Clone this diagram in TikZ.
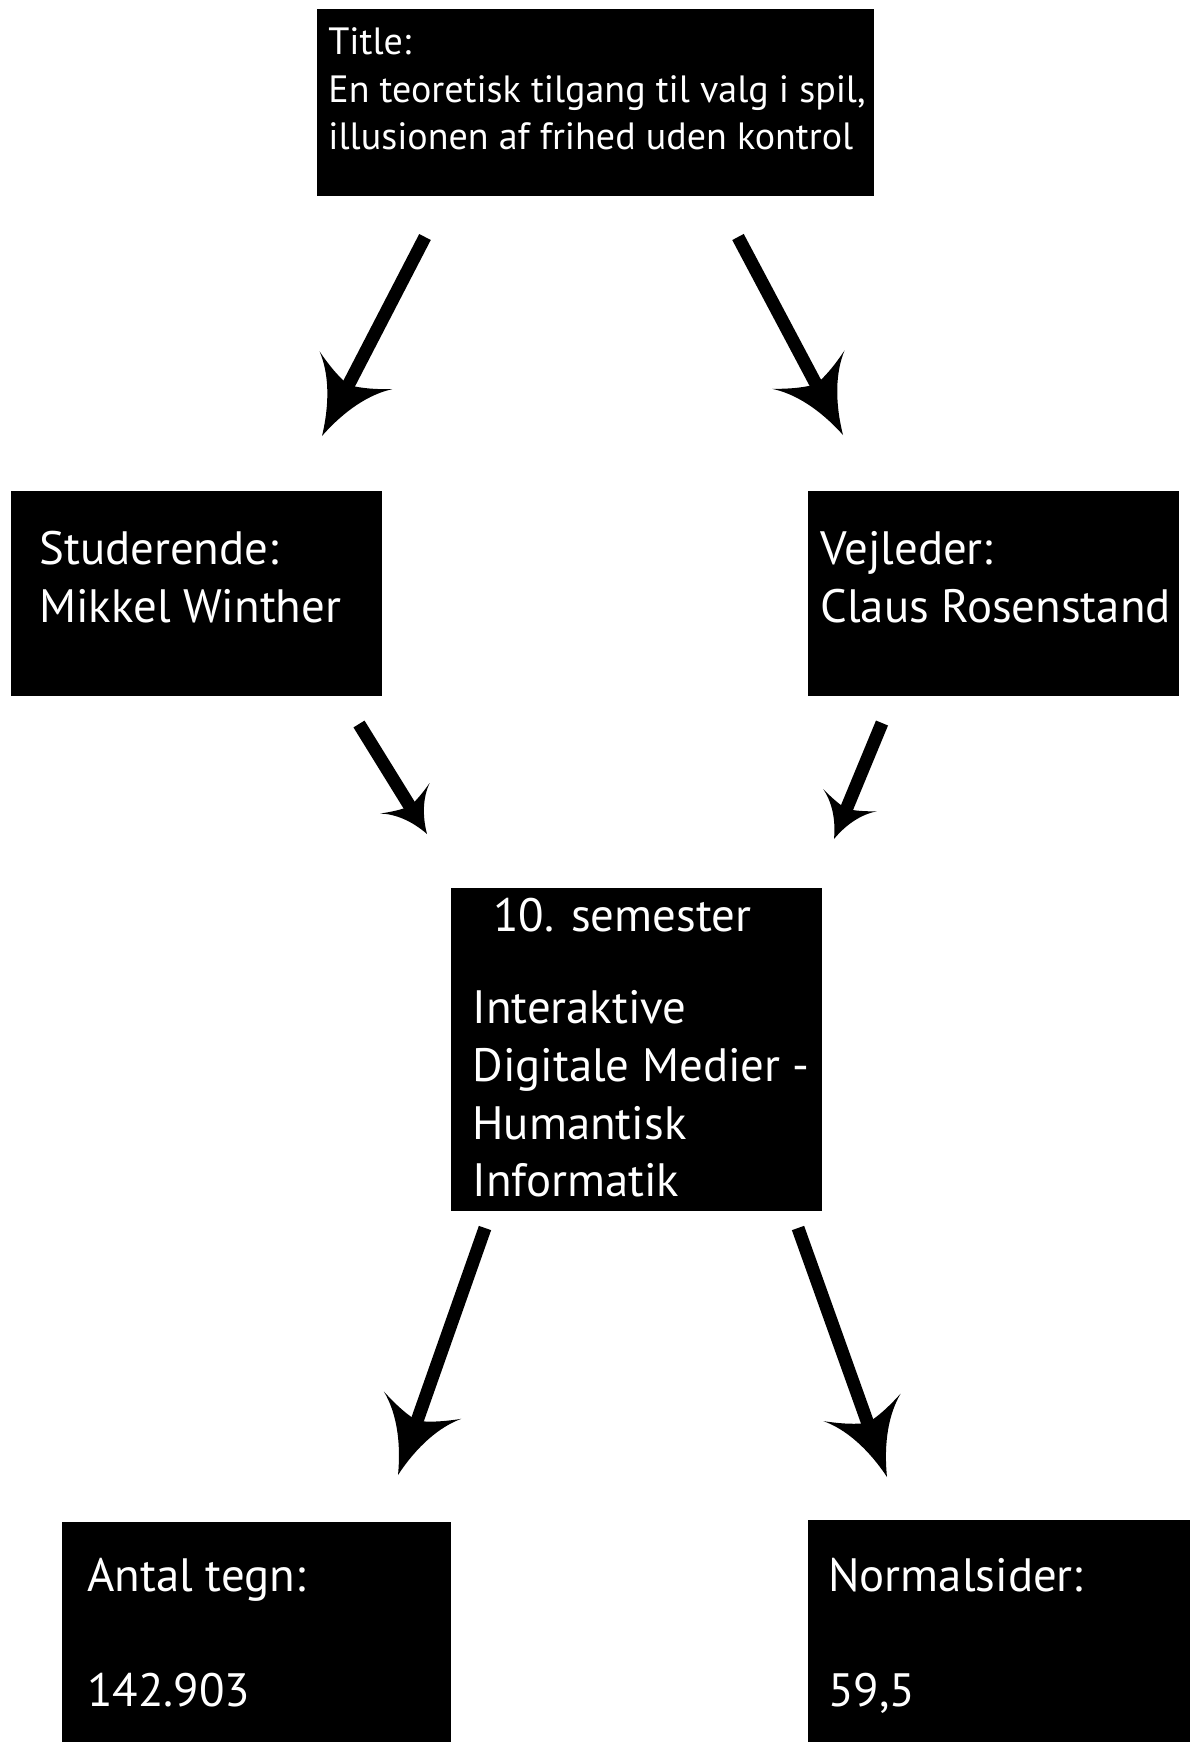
\documentclass[tikz,border=0pt]{standalone}
\usepackage{fontspec}
\setmainfont{PT Sans}
\usetikzlibrary{arrows.meta,fit}

% Arrow head with swept-back, curved barbs
\pgfdeclarearrow{
  name = Swept,
  parameters = {\the\pgfarrowlength,\the\pgfarrowwidth},
  setup code = {
    \pgfarrowssettipend{0pt}
    \pgfarrowssetlineend{-0.75\pgfarrowlength}
    \pgfarrowssetbackend{-\pgfarrowlength}
    \pgfarrowssavethe\pgfarrowlength
    \pgfarrowssavethe\pgfarrowwidth
  },
  drawing code = {
    \pgfpathmoveto{\pgfpointorigin}
    \pgfpathcurveto{\pgfpoint{-0.45\pgfarrowlength}{0.1\pgfarrowwidth}}
                   {\pgfpoint{-0.8\pgfarrowlength}{0.28\pgfarrowwidth}}
                   {\pgfpoint{-\pgfarrowlength}{0.5\pgfarrowwidth}}
    \pgfpathcurveto{\pgfpoint{-0.88\pgfarrowlength}{0.3\pgfarrowwidth}}
                   {\pgfpoint{-0.8\pgfarrowlength}{0.12\pgfarrowwidth}}
                   {\pgfpoint{-0.78\pgfarrowlength}{0pt}}
    \pgfpathcurveto{\pgfpoint{-0.8\pgfarrowlength}{-0.12\pgfarrowwidth}}
                   {\pgfpoint{-0.88\pgfarrowlength}{-0.3\pgfarrowwidth}}
                   {\pgfpoint{-\pgfarrowlength}{-0.5\pgfarrowwidth}}
    \pgfpathcurveto{\pgfpoint{-0.8\pgfarrowlength}{-0.28\pgfarrowwidth}}
                   {\pgfpoint{-0.45\pgfarrowlength}{-0.1\pgfarrowwidth}}
                   {\pgfpointorigin}
    \pgfpathclose
    \pgfusepathqfill
  },
  defaults = {length = 37pt, width = 40pt}
}

\begin{document}
\begin{tikzpicture}[x=0.5pt,y=-0.5pt,
  box/.style={fill=black, draw=none, inner sep=0pt},
  lbl/.style={text=white, inner sep=0pt, anchor=base west},
  titlefont/.style={font=\fontsize{19}{24}\selectfont},
  bodyfont/.style={font=\fontsize{23.4}{29}\selectfont},
  bigarrow/.style={line width=6.5pt, -{Swept[length=37pt,width=41pt]}},
  smallarrow/.style={line width=6.5pt, -{Swept[length=21pt,width=29pt]}}]
\useasboundingbox (0,0) rectangle (1190,1742);

% boxes
\node[box, fit={(317,9) (874,196)}] (title) {};
\node[box, fit={(11,491) (382,696)}] (student) {};
\node[box, fit={(808,491) (1179,696)}] (advisor) {};
\node[box, fit={(451,888) (822,1211)}] (semester) {};
\node[box, fit={(62,1522) (451,1742)}] (chars) {};
\node[box, fit={(808,1520) (1190,1742)}] (pages) {};

% texts
\node[lbl, titlefont] (t1) at (328,54) {Title:};
\node[lbl, titlefont] (t2) at (328,102) {En teoretisk tilgang til valg i spil,};
\node[lbl, titlefont] (t3) at (328,149) {illusionen af frihed uden kontrol};

\node[lbl, bodyfont] (s1) at (39,564) {Studerende:};
\node[lbl, bodyfont] (s2) at (39,622) {Mikkel Winther};

\node[lbl, bodyfont] (v1) at (820,564) {Vejleder:};
\node[lbl, bodyfont] (v2) at (820,622) {Claus Rosenstand};

\node[lbl, bodyfont] (m0) at (493,931) {10. semester};
\node[lbl, bodyfont] (m1) at (472,1023) {Interaktive};
\node[lbl, bodyfont] (m2) at (472,1081) {Digitale Medier -};
\node[lbl, bodyfont] (m3) at (472,1139) {Humantisk};
\node[lbl, bodyfont] (m4) at (472,1196) {Informatik};

\node[lbl, bodyfont] (c1) at (87,1591) {Antal tegn:};
\node[lbl, bodyfont] (c2) at (87,1706) {142.903};

\node[lbl, bodyfont] (p1) at (828,1591) {Normalsider:};
\node[lbl, bodyfont] (p2) at (828,1706) {59,5};

% arrow end points
\coordinate (a1s) at (425,237);  \coordinate (a1e) at (322,436);
\coordinate (a2s) at (738,237);  \coordinate (a2e) at (843,435);
\coordinate (a3s) at (359,724);  \coordinate (a3e) at (427,834);
\coordinate (a4s) at (882,723);  \coordinate (a4e) at (834,839);
\coordinate (a5s) at (485,1228); \coordinate (a5e) at (398,1475);
\coordinate (a6s) at (798,1228); \coordinate (a6e) at (887,1477);

% arrows
\draw[bigarrow] (a1s) -- (a1e);
\draw[bigarrow] (a2s) -- (a2e);
\draw[smallarrow] (a3s) -- (a3e);
\draw[smallarrow] (a4s) -- (a4e);
\draw[bigarrow] (a5s) -- (a5e);
\draw[bigarrow] (a6s) -- (a6e);
\end{tikzpicture}
\end{document}
